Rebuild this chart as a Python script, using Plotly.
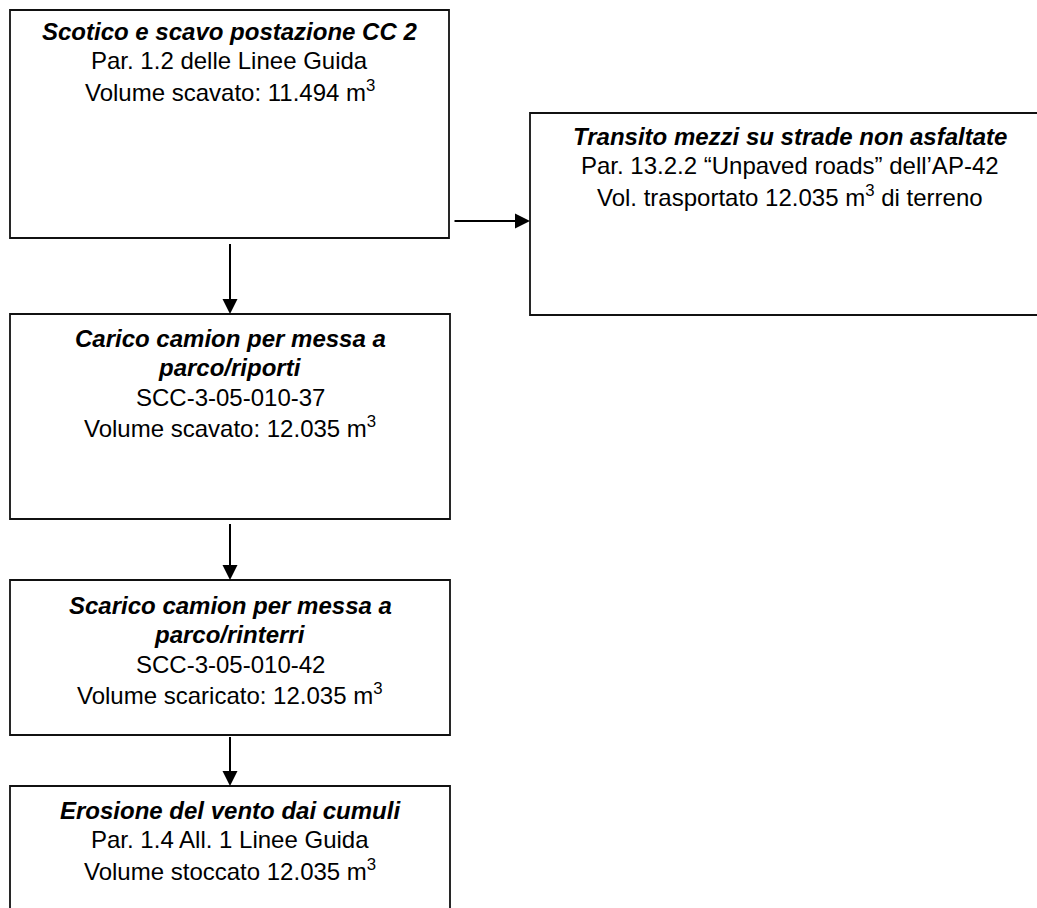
import plotly.graph_objects as go

# ---- content ----
box_titles = [
    ["Scotico e scavo postazione CC 2"],
    ["Transito mezzi su strade non asfaltate"],
    ["Carico camion per messa a", "parco/riporti"],
    ["Scarico camion per messa a", "parco/rinterri"],
    ["Erosione del vento dai cumuli"],
]
box_refs = [
    "Par. 1.2 delle Linee Guida",
    "Par. 13.2.2 “Unpaved roads” dell’AP-42",
    "SCC-3-05-010-37",
    "SCC-3-05-010-42",
    "Par. 1.4 All. 1 Linee Guida",
]
volume_labels = [
    "Volume scavato: ",
    "Vol. trasportato ",
    "Volume scavato: ",
    "Volume scaricato: ",
    "Volume stoccato ",
]
volume_values = ["11.494", "12.035", "12.035", "12.035", "12.035"]
volume_suffix = ["", " di terreno", "", "", ""]
links = [(0, 2), (0, 1), (2, 3), (3, 4)]

# ---- layout geometry (pixels, y downwards) ----
W, H = 1037, 908
box_geom = [
    (10, 10, 449, 238),
    (530, 113, 1050, 315),
    (10, 314, 450, 519),
    (10, 580, 450, 735),
    (10, 786, 450, 980),
]
first_line_y = [31, 136, 338, 605, 810]
line_step = 29.8
arrow_geom = {
    (0, 2): ((230, 242), (230, 314)),
    (0, 1): ((453, 221), (530, 221)),
    (2, 3): ((230, 522), (230, 580)),
    (3, 4): ((230, 735), (230, 786)),
}

FONT = "Liberation Sans, Arial, sans-serif"

fig = go.Figure()
fig.add_trace(go.Scatter(x=[0, W], y=[0, H], mode="markers",
                         marker=dict(opacity=0), hoverinfo="skip", showlegend=False))

annotations = []
shapes = []
for i, (x0, y0, x1, y1) in enumerate(box_geom):
    shapes.append(dict(type="rect", xref="x", yref="y", x0=x0, y0=y0, x1=x1, y1=y1,
                       line=dict(color="#111111", width=1.8), fillcolor="rgba(0,0,0,0)"))
    cx = (x0 + x1) / 2
    lines = [f"<b><i>{t}</i></b>" for t in box_titles[i]]
    lines.append(box_refs[i])
    lines.append(f"{volume_labels[i]}{volume_values[i]} m<sup>3</sup>{volume_suffix[i]}")
    for k, txt in enumerate(lines):
        annotations.append(dict(x=cx, y=first_line_y[i] + k * line_step, xref="x", yref="y",
                                text=txt, showarrow=False, xanchor="center", yanchor="middle",
                                font=dict(family=FONT, size=24, color="black")))

for link in links:
    (tx, ty), (hx, hy) = arrow_geom[link]
    annotations.append(dict(x=hx, y=hy, ax=tx, ay=ty, xref="x", yref="y", axref="x", ayref="y",
                            text=" ", showarrow=True, arrowhead=2, arrowsize=1.5, arrowwidth=2,
                            arrowcolor="black", standoff=0, startstandoff=0,
                            font=dict(size=1)))

fig.update_layout(
    width=W, height=H,
    margin=dict(l=0, r=0, t=0, b=0),
    paper_bgcolor="white", plot_bgcolor="white",
    xaxis=dict(range=[0, W], visible=False, fixedrange=True),
    yaxis=dict(range=[H, 0], visible=False, fixedrange=True),
    shapes=shapes, annotations=annotations, showlegend=False,
)
fig.write_html("out.html", config={"displayModeBar": False},
               post_script="document.body.style.margin='0px';document.body.style.overflow='hidden';")
